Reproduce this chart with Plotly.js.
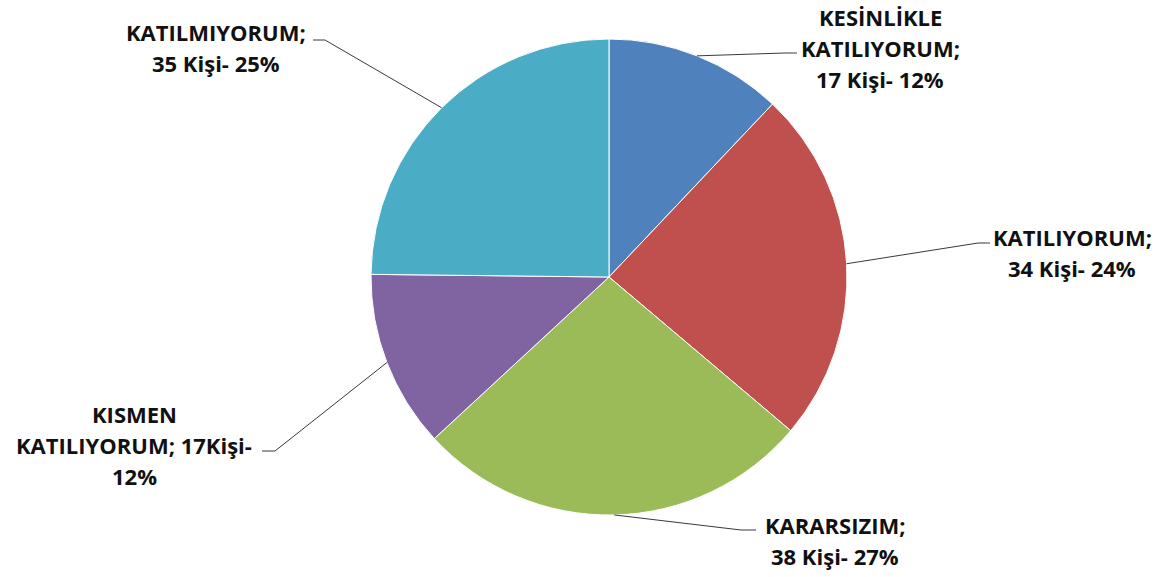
<!DOCTYPE html>
<html>
<head>
<meta charset="utf-8">
<script src="https://cdn.plot.ly/plotly-3.0.1.min.js"></script>
<style>html,body{margin:0;padding:0;background:#fff;}#chart{width:1163px;height:577px;}</style>
</head>
<body>
<div id="chart"></div>
<script>
// ---- data ----
var categories = ['KESİNLİKLE KATILIYORUM', 'KATILIYORUM', 'KARARSIZIM', 'KISMEN KATILIYORUM', 'KATILMIYORUM'];
var values = [17, 34, 38, 17, 35];
var labelLines = [
  ['KESİNLİKLE', 'KATILIYORUM;', '17 Kişi- 12%'],
  ['KATILIYORUM;', '34 Kişi- 24%'],
  ['KARARSIZIM;', '38 Kişi- 27%'],
  ['KISMEN', 'KATILIYORUM; 17Kişi-', '12%'],
  ['KATILMIYORUM;', '35 Kişi- 25%']
];
var colors = ['#4F81BD', '#C0504D', '#9BBB59', '#8064A2', '#4BACC6'];

// ---- layout (pixels) ----
var W = 1163, H = 577;
var cx = 609, cy = 277, R = 238;
// label block: center x, first-line y; leader: elbow point and end point
var labelPos = [
  {x: 880, y: 17, elbow: [785, 53], end: [797, 53]},
  {x: 1072, y: 237, elbow: [978, 243], end: [990, 243]},
  {x: 835, y: 525, elbow: [741, 530], end: [756, 530]},
  {x: 134, y: 414, elbow: [275, 451], end: [262, 451]},
  {x: 216, y: 32, elbow: [325, 40], end: [313, 40]}
];
var lineGap = 31;

function px(x) { return x / W; }
function py(y) { return 1 - y / H; }

var total = values.reduce(function (a, b) { return a + b; }, 0);
var shapes = [], annotations = [];
var cum = 0;
for (var i = 0; i < values.length; i++) {
  var mid = (cum + values[i] / 2) / total * 2 * Math.PI;
  cum += values[i];
  var tx = cx + R * Math.sin(mid), ty = cy - R * Math.cos(mid);
  var lp = labelPos[i];
  shapes.push({
    type: 'path', xref: 'paper', yref: 'paper',
    path: 'M' + px(tx) + ',' + py(ty) + ' L' + px(lp.elbow[0]) + ',' + py(lp.elbow[1]) + ' L' + px(lp.end[0]) + ',' + py(lp.end[1]),
    line: {color: '#3a3a3a', width: 1}
  });
  for (var j = 0; j < labelLines[i].length; j++) {
    annotations.push({
      xref: 'paper', yref: 'paper', x: px(lp.x), y: py(lp.y + j * lineGap),
      xanchor: 'center', yanchor: 'middle', showarrow: false,
      text: '<b>' + labelLines[i][j] + '</b>',
      font: {family: 'Open Sans, sans-serif', size: 22, color: '#111111'}
    });
  }
}

var data = [{
  type: 'pie', labels: categories, values: values, sort: false,
  direction: 'clockwise', rotation: 0, textinfo: 'none', hoverinfo: 'label+value+percent',
  marker: {colors: colors, line: {color: '#ffffff', width: 1}},
  domain: {x: [(cx - R) / W, (cx + R) / W], y: [1 - (cy + R) / H, 1 - (cy - R) / H]},
  showlegend: false
}];

var layout = {
  width: W, height: H, margin: {l: 0, r: 0, t: 0, b: 0},
  paper_bgcolor: '#ffffff', plot_bgcolor: '#ffffff',
  showlegend: false, shapes: shapes, annotations: annotations
};

Plotly.newPlot('chart', data, layout, {displayModeBar: false, staticPlot: true});
</script>
</body>
</html>
